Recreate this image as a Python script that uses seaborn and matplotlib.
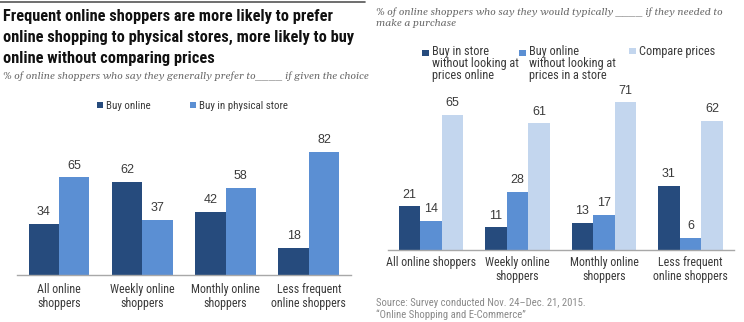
import matplotlib
matplotlib.use("Agg")
import matplotlib.pyplot as plt
import seaborn as sns
import pandas as pd
from matplotlib.lines import Line2D
from matplotlib.patches import Rectangle
from matplotlib.legend_handler import HandlerPatch

sns.set_theme(style="white")
plt.rcParams['font.family'] = ['Roboto Condensed', 'Liberation Sans', 'DejaVu Sans']

# ---------------- data ----------------
left_categories = ["All online\nshoppers", "Weekly online\nshoppers",
                   "Monthly online\nshoppers", "Less frequent\nonline shoppers"]
left_series = ["Buy online", "Buy in physical store"]
left_buy_online = [34, 62, 42, 18]
left_buy_store = [65, 37, 58, 82]

right_categories = ["All online shoppers", "Weekly online\nshoppers",
                    "Monthly online\nshoppers", "Less frequent\nonline shoppers"]
right_series = ["Buy in store\nwithout looking at\nprices online",
                "Buy online\nwithout looking at\nprices in a store",
                "Compare prices"]
right_store_no_compare = [21, 11, 13, 31]
right_online_no_compare = [14, 28, 17, 6]
right_compare = [65, 61, 71, 62]

DARK = "#264B7D"
MID = "#5B8FD3"
LIGHT = "#C3D6EE"
TXT = "#3a3a3a"
SERIF = ["Gelasio", "Liberation Serif", "DejaVu Serif"]

left_df = pd.DataFrame({
    "cat": left_categories * 2,
    "series": [left_series[0]] * 4 + [left_series[1]] * 4,
    "val": left_buy_online + left_buy_store,
})
right_df = pd.DataFrame({
    "cat": right_categories * 3,
    "series": [right_series[0]] * 4 + [right_series[1]] * 4 + [right_series[2]] * 4,
    "val": right_store_no_compare + right_online_no_compare + right_compare,
})

W, H = 744, 322
fig = plt.figure(figsize=(W / 100, H / 100), dpi=100)


def px_axes(x0, x1, ytop, ybot):
    return fig.add_axes([x0 / W, 1 - ybot / H, (x1 - x0) / W, (ybot - ytop) / H])


# ---------------- left chart ----------------
axL = px_axes(17.4, 350.5, 140, 275)
sns.barplot(data=left_df, x="cat", y="val", hue="series", ax=axL,
            palette=[DARK, MID], width=0.73, gap=0, saturation=1,
            legend=True, edgecolor="none")
axL.set_ylim(0, 90)

# ---------------- right chart ----------------
axR = px_axes(387.75, 733.75, 94, 250)
sns.barplot(data=right_df, x="cat", y="val", hue="series", ax=axR,
            palette=[DARK, MID, LIGHT], width=0.75, gap=0, saturation=1,
            legend=True, edgecolor="none")
axR.set_ylim(0, 75)

for ax in (axL, axR):
    for c in ax.containers:
        ax.bar_label(c, padding=4, fontsize=9, color=TXT,
                     family=["Liberation Sans", "DejaVu Sans"])
    ax.set_xlim(-0.5, 3.5)
    ax.set_xlabel("")
    ax.set_ylabel("")
    ax.set_yticks([])
    for s in ("top", "left", "right"):
        ax.spines[s].set_visible(False)
    ax.spines["bottom"].set_color("#A8A8A8")
    ax.spines["bottom"].set_linewidth(1.0)
    ax.patch.set_alpha(0)
axL.tick_params(axis="x", length=0, pad=6, labelsize=8.6, colors=TXT)
axR.tick_params(axis="x", length=0, pad=4, labelsize=8.6, colors=TXT)
for ax in (axL, axR):
    for t in ax.get_xticklabels():
        t.set_linespacing(1.1)


# legend handler: small square aligned with the first text line
class TopSquare(HandlerPatch):
    def __init__(self, nlines=1, lsp=1.0, **kw):
        super().__init__(**kw)
        self.nlines = nlines
        self.lsp = lsp

    def create_artists(self, legend, orig_handle, xdescent, ydescent,
                       width, height, fontsize, trans):
        s = 0.55 * fontsize
        shift = (self.nlines - 1) / 2 * fontsize * 1.05 * self.lsp
        r = Rectangle((-xdescent, -ydescent + shift), s, s,
                      facecolor=orig_handle.get_facecolor(), edgecolor="none",
                      transform=trans)
        return [r]


def add_entry(handle, label, x_px, y_top_px, fs, lsp=1.0):
    n = label.count("\n") + 1
    leg = fig.legend([handle], [label], loc="upper left",
                     bbox_to_anchor=(x_px / W, 1 - y_top_px / H),
                     frameon=False, fontsize=fs, handlelength=0.55, handleheight=0.55,
                     handletextpad=0.3, borderpad=0, borderaxespad=0,
                     labelcolor=TXT, handler_map={handle: TopSquare(n, lsp)})
    for t in leg.get_texts():
        t.set_linespacing(lsp)
    return leg


hL, lL = axL.get_legend_handles_labels()
axL.get_legend().remove()
add_entry(hL[0], lL[0], 97, 101, 7.8)
add_entry(hL[1], lL[1], 190, 101, 7.8)

hR, lR = axR.get_legend_handles_labels()
axR.get_legend().remove()
for h, l, x in zip(hR, lR, [422, 519, 629]):
    add_entry(h, l, x, 45, 8.8, lsp=0.9)

# ---------------- texts ----------------
fig.add_artist(Line2D([0, 365 / W], [1 - 2 / H, 1 - 2 / H], color="#555555", lw=1.2))
fig.text(3 / W, 1 - 9 / H,
         "Frequent online shoppers are more likely to prefer\n"
         "online shopping to physical stores, more likely to buy\n"
         "online without comparing prices",
         ha="left", va="top", fontsize=11.8, fontweight="bold", color="#111111",
         linespacing=1.5)
fig.text(3 / W, 1 - 76 / H,
         "% of online shoppers who say they generally prefer to____ if given the choice",
         ha="left", va="center", fontsize=7.6, style="italic", color="#6b6b6b",
         family=SERIF)
fig.text(376 / W, 1 - 7 / H,
         "% of online shoppers who say they would typically ____ if they needed to\n"
         "make a purchase",
         ha="left", va="top", fontsize=7.6, style="italic", color="#6b6b6b",
         family=SERIF, linespacing=1.3)
fig.text(376 / W, 1 - 298 / H,
         "Source: Survey conducted Nov. 24\u2013Dec. 21, 2015.\n"
         "\u201cOnline Shopping and E-Commerce\u201d",
         ha="left", va="top", fontsize=7.7, color="#8a8a8a", linespacing=1.15)

fig.savefig("out.png", dpi=100)
